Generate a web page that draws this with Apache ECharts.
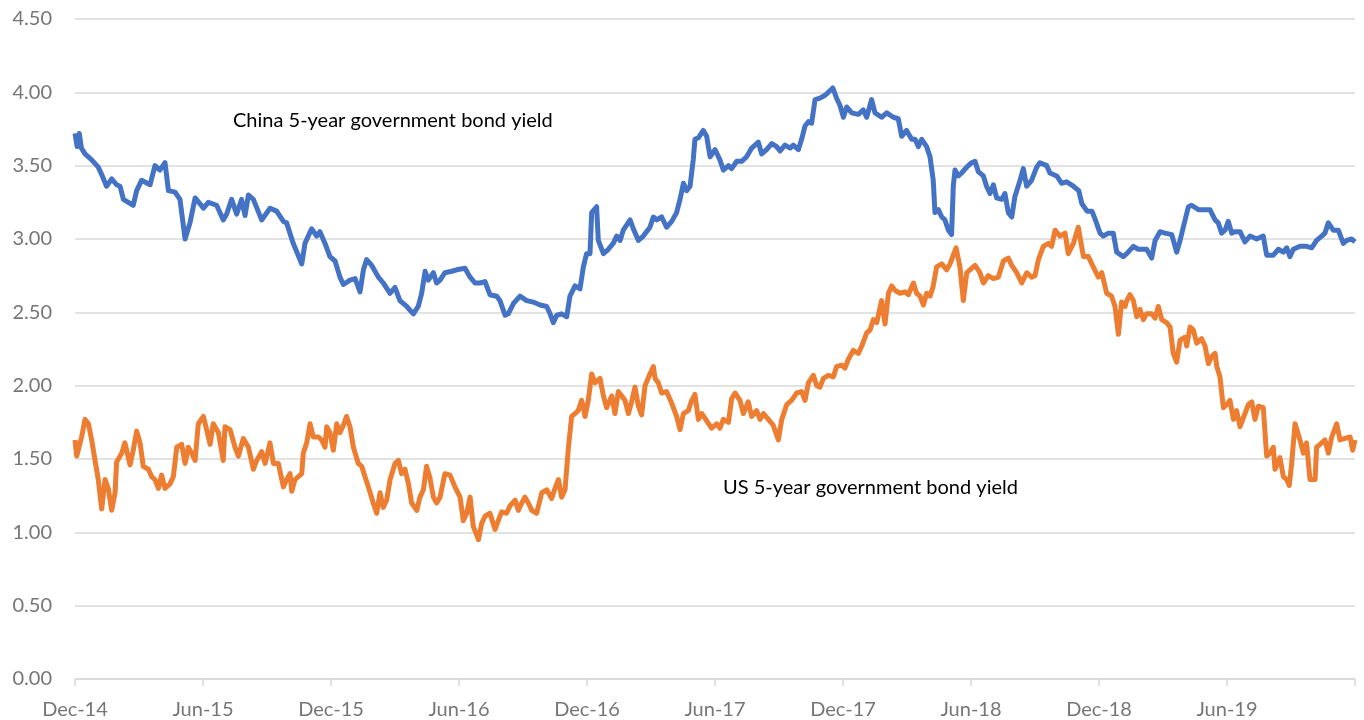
<!DOCTYPE html>
<html>
<head>
    <meta charset="utf-8">
    <script type="text/javascript" src="https://cdn.jsdelivr.net/npm/echarts@6/dist/echarts.min.js"></script>
    <style type="text/css">
        * {
            margin: 0;
            padding: 0;
        }
        html, body {
            background: #ffffff;
        }
        #container {
            width: 1364px;
            height: 720px;
        }
    </style>
</head>
<body>
<div id="container"></div>

<script type="text/javascript">

    //x轴刻度标签 (每6个月一个)
    var tickLabels = ['Dec-14', 'Jun-15', 'Dec-15', 'Jun-16', 'Dec-16', 'Jun-17', 'Dec-17', 'Jun-18', 'Dec-18', 'Jun-19', ''];

    //中国5年期国债收益率: 月份(距Dec-14) / 收益率
    var chinaMonths = [0.00, 0.10, 0.20, 0.30, 0.47, 0.78, 1.09, 1.25, 1.48, 1.72, 1.95, 2.11, 2.27, 2.50, 2.73, 2.89, 3.12, 3.52, 3.75, 3.98,
        4.22, 4.38, 4.69, 4.92, 5.16, 5.39, 5.63, 5.86, 6.02, 6.25, 6.64, 6.95, 7.11, 7.34, 7.58, 7.81, 7.97, 8.13, 8.36, 8.75,
        9.14, 9.45, 9.77, 9.92, 10.23, 10.63, 10.78, 11.09, 11.33, 11.48, 11.72, 11.95, 12.19, 12.42, 12.58, 12.89, 13.13, 13.36, 13.52, 13.67,
        13.91, 14.22, 14.45, 14.77, 15.00, 15.23, 15.55, 15.86, 16.09, 16.25, 16.41, 16.56, 16.80, 16.95, 17.11, 17.34, 17.66, 17.89, 18.28, 18.52,
        18.75, 18.98, 19.22, 19.45, 19.77, 19.92, 20.16, 20.31, 20.55, 20.86, 21.17, 21.48, 21.80, 22.11, 22.27, 22.42, 22.58, 22.81, 23.05, 23.20,
        23.44, 23.67, 23.83, 23.98, 24.14, 24.22, 24.45, 24.53, 24.77, 25.00, 25.23, 25.39, 25.55, 25.70, 26.02, 26.17, 26.41, 26.64, 26.95, 27.11,
        27.27, 27.50, 27.73, 27.97, 28.20, 28.36, 28.52, 28.67, 28.83, 28.98, 29.06, 29.22, 29.45, 29.61, 29.77, 30.00, 30.23, 30.39, 30.63, 30.78,
        31.02, 31.25, 31.48, 31.72, 32.03, 32.19, 32.42, 32.66, 32.89, 33.05, 33.28, 33.52, 33.67, 33.91, 34.06, 34.22, 34.38, 34.53, 34.69, 34.92,
        35.16, 35.31, 35.52, 35.70, 35.86, 36.02, 36.17, 36.41, 36.72, 36.95, 37.11, 37.34, 37.50, 37.81, 38.05, 38.36, 38.59, 38.75, 38.98, 39.22,
        39.38, 39.53, 39.69, 39.92, 40.08, 40.23, 40.31, 40.47, 40.63, 40.78, 40.94, 41.09, 41.17, 41.25, 41.41, 41.56, 41.80, 42.03, 42.19, 42.34,
        42.58, 42.73, 42.89, 43.05, 43.20, 43.44, 43.59, 43.75, 43.91, 44.06, 44.30, 44.45, 44.61, 44.84, 45.08, 45.23, 45.55, 45.70, 46.02, 46.25,
        46.48, 46.80, 47.05, 47.20, 47.44, 47.67, 47.83, 48.05, 48.20, 48.44, 48.67, 48.83, 49.14, 49.30, 49.61, 49.84, 50.23, 50.47, 50.63, 50.86,
        51.09, 51.41, 51.64, 51.80, 51.95, 52.19, 52.34, 52.66, 53.20, 53.44, 53.59, 53.75, 53.91, 54.06, 54.22, 54.38, 54.61, 54.84, 55.08, 55.39,
        55.70, 55.86, 56.17, 56.41, 56.64, 56.80, 56.95, 57.11, 57.42, 57.73, 57.97, 58.20, 58.44, 58.59, 58.75, 58.98, 59.22, 59.45, 59.61, 59.84,
        60.00];
    var chinaYield = [3.72, 3.63, 3.72, 3.62, 3.58, 3.54, 3.49, 3.44, 3.36, 3.41, 3.37, 3.36, 3.27, 3.25, 3.23, 3.33, 3.40, 3.37, 3.50, 3.47,
        3.52, 3.33, 3.32, 3.27, 3.00, 3.11, 3.28, 3.24, 3.21, 3.25, 3.23, 3.13, 3.17, 3.27, 3.17, 3.27, 3.16, 3.30, 3.27, 3.13,
        3.21, 3.19, 3.12, 3.11, 2.97, 2.83, 2.97, 3.07, 3.02, 3.05, 2.97, 2.88, 2.85, 2.74, 2.69, 2.72, 2.73, 2.64, 2.79, 2.86,
        2.82, 2.74, 2.70, 2.63, 2.67, 2.58, 2.54, 2.49, 2.54, 2.63, 2.78, 2.72, 2.77, 2.70, 2.72, 2.77, 2.78, 2.79, 2.80, 2.74,
        2.70, 2.70, 2.71, 2.62, 2.61, 2.58, 2.48, 2.49, 2.56, 2.61, 2.58, 2.57, 2.55, 2.54, 2.49, 2.43, 2.48, 2.49, 2.47, 2.61,
        2.68, 2.66, 2.81, 2.90, 2.90, 3.18, 3.22, 2.99, 2.90, 2.93, 2.97, 3.02, 2.99, 3.06, 3.13, 3.07, 2.99, 3.02, 3.08, 3.15,
        3.13, 3.15, 3.08, 3.12, 3.18, 3.27, 3.38, 3.33, 3.36, 3.54, 3.68, 3.69, 3.74, 3.70, 3.56, 3.61, 3.54, 3.47, 3.50, 3.48,
        3.53, 3.53, 3.56, 3.62, 3.66, 3.58, 3.61, 3.65, 3.63, 3.60, 3.64, 3.62, 3.64, 3.61, 3.68, 3.77, 3.80, 3.79, 3.95, 3.96,
        3.98, 4.00, 4.03, 3.96, 3.91, 3.83, 3.90, 3.86, 3.85, 3.88, 3.83, 3.95, 3.86, 3.83, 3.86, 3.83, 3.82, 3.70, 3.74, 3.68,
        3.68, 3.63, 3.68, 3.63, 3.56, 3.40, 3.18, 3.20, 3.15, 3.13, 3.06, 3.03, 3.36, 3.47, 3.43, 3.45, 3.49, 3.52, 3.53, 3.46,
        3.43, 3.36, 3.31, 3.37, 3.28, 3.27, 3.31, 3.18, 3.15, 3.29, 3.40, 3.48, 3.36, 3.40, 3.49, 3.52, 3.50, 3.45, 3.43, 3.38,
        3.39, 3.36, 3.33, 3.24, 3.19, 3.19, 3.13, 3.04, 3.02, 3.04, 3.04, 2.91, 2.88, 2.90, 2.95, 2.93, 2.93, 2.87, 2.99, 3.05,
        3.04, 3.03, 2.91, 2.99, 3.08, 3.22, 3.23, 3.20, 3.20, 3.13, 3.11, 3.04, 3.06, 3.12, 3.04, 3.05, 3.05, 2.98, 3.02, 3.00,
        3.02, 2.89, 2.89, 2.93, 2.91, 2.94, 2.88, 2.93, 2.95, 2.95, 2.94, 2.99, 3.02, 3.04, 3.11, 3.06, 3.06, 2.97, 2.99, 3.00,
        2.98];

    //美国5年期国债收益率
    var usMonths = [0.00, 0.08, 0.16, 0.31, 0.47, 0.63, 0.78, 0.94, 1.09, 1.25, 1.41, 1.56, 1.72, 1.88, 1.95, 2.19, 2.34, 2.58, 2.73, 2.89,
        3.05, 3.20, 3.44, 3.59, 3.75, 3.91, 4.06, 4.22, 4.45, 4.61, 4.77, 5.00, 5.16, 5.31, 5.47, 5.63, 5.78, 6.02, 6.17, 6.33,
        6.48, 6.72, 6.95, 7.03, 7.27, 7.50, 7.66, 7.89, 8.13, 8.36, 8.52, 8.75, 8.91, 9.14, 9.30, 9.53, 9.77, 9.92, 10.08, 10.16,
        10.31, 10.47, 10.63, 10.70, 10.86, 11.02, 11.17, 11.41, 11.56, 11.72, 11.80, 11.95, 12.11, 12.27, 12.42, 12.58, 12.73, 12.89, 13.05, 13.28,
        13.44, 13.59, 13.75, 13.98, 14.14, 14.30, 14.45, 14.61, 14.77, 15.00, 15.16, 15.31, 15.47, 15.63, 15.78, 16.02, 16.17, 16.33, 16.48, 16.64,
        16.80, 16.95, 17.11, 17.34, 17.58, 17.81, 18.05, 18.20, 18.36, 18.52, 18.67, 18.91, 19.06, 19.22, 19.45, 19.69, 19.84, 20.00, 20.23, 20.39,
        20.63, 20.78, 20.94, 21.09, 21.25, 21.41, 21.64, 21.88, 22.11, 22.34, 22.50, 22.66, 22.81, 22.97, 23.13, 23.28, 23.44, 23.59, 23.75, 23.91,
        24.06, 24.22, 24.38, 24.61, 24.77, 24.92, 25.16, 25.31, 25.47, 25.63, 25.78, 25.94, 26.09, 26.25, 26.41, 26.56, 26.72, 26.95, 27.11, 27.19,
        27.34, 27.50, 27.73, 27.97, 28.20, 28.36, 28.52, 28.75, 28.91, 29.06, 29.22, 29.38, 29.61, 29.84, 30.08, 30.23, 30.39, 30.63, 30.78, 30.94,
        31.17, 31.33, 31.56, 31.72, 31.95, 32.11, 32.27, 32.50, 32.73, 32.97, 33.13, 33.36, 33.59, 33.83, 34.06, 34.22, 34.38, 34.61, 34.77, 34.92,
        35.08, 35.31, 35.55, 35.70, 35.94, 36.09, 36.25, 36.48, 36.72, 36.88, 37.11, 37.27, 37.42, 37.58, 37.81, 37.97, 38.13, 38.28, 38.44, 38.67,
        38.91, 39.06, 39.14, 39.30, 39.45, 39.61, 39.77, 39.92, 40.08, 40.23, 40.39, 40.63, 40.86, 41.02, 41.17, 41.30, 41.48, 41.64, 41.80, 41.95,
        42.19, 42.42, 42.58, 42.81, 43.05, 43.28, 43.52, 43.75, 43.91, 44.14, 44.38, 44.61, 44.84, 45.00, 45.16, 45.39, 45.63, 45.78, 45.94, 46.17,
        46.41, 46.56, 46.80, 47.03, 47.27, 47.50, 47.73, 47.97, 48.13, 48.36, 48.59, 48.75, 48.91, 49.06, 49.22, 49.30, 49.45, 49.61, 49.77, 49.92,
        50.08, 50.23, 50.47, 50.63, 50.78, 50.94, 51.17, 51.33, 51.48, 51.64, 51.80, 52.03, 52.11, 52.27, 52.42, 52.58, 52.81, 52.97, 53.13, 53.28,
        53.44, 53.52, 53.67, 53.83, 53.98, 54.14, 54.30, 54.45, 54.61, 54.84, 55.00, 55.16, 55.31, 55.47, 55.70, 55.86, 56.02, 56.17, 56.25, 56.48,
        56.64, 56.80, 56.92, 57.03, 57.19, 57.42, 57.58, 57.73, 57.89, 58.13, 58.20, 58.36, 58.59, 58.75, 58.91, 59.14, 59.30, 59.53, 59.77, 59.89,
        60.00];
    var usYield = [1.63, 1.52, 1.52, 1.65, 1.77, 1.74, 1.63, 1.49, 1.36, 1.16, 1.36, 1.30, 1.15, 1.27, 1.48, 1.54, 1.61, 1.46, 1.56, 1.69,
        1.61, 1.45, 1.43, 1.38, 1.36, 1.30, 1.39, 1.30, 1.33, 1.38, 1.58, 1.60, 1.47, 1.58, 1.54, 1.49, 1.74, 1.79, 1.70, 1.60,
        1.74, 1.68, 1.49, 1.72, 1.70, 1.58, 1.52, 1.64, 1.58, 1.43, 1.49, 1.55, 1.47, 1.61, 1.47, 1.47, 1.31, 1.36, 1.40, 1.28,
        1.36, 1.38, 1.40, 1.54, 1.61, 1.74, 1.65, 1.65, 1.63, 1.58, 1.72, 1.68, 1.56, 1.74, 1.68, 1.73, 1.79, 1.72, 1.58, 1.47,
        1.45, 1.38, 1.31, 1.20, 1.13, 1.27, 1.17, 1.22, 1.36, 1.47, 1.49, 1.40, 1.43, 1.33, 1.20, 1.15, 1.24, 1.29, 1.45, 1.37,
        1.24, 1.20, 1.24, 1.40, 1.39, 1.31, 1.24, 1.08, 1.13, 1.24, 1.04, 0.95, 1.06, 1.11, 1.13, 1.02, 1.08, 1.14, 1.13, 1.18,
        1.22, 1.15, 1.20, 1.24, 1.20, 1.15, 1.13, 1.27, 1.29, 1.23, 1.30, 1.36, 1.24, 1.29, 1.58, 1.79, 1.81, 1.83, 1.90, 1.79,
        1.90, 2.08, 2.02, 2.05, 1.93, 1.85, 1.93, 1.81, 1.96, 1.93, 1.90, 1.81, 1.89, 1.99, 1.86, 1.80, 2.00, 2.08, 2.13, 2.05,
        2.02, 1.95, 1.96, 1.88, 1.79, 1.70, 1.81, 1.83, 1.90, 1.94, 1.77, 1.81, 1.76, 1.71, 1.74, 1.71, 1.77, 1.75, 1.91, 1.95,
        1.90, 1.81, 1.89, 1.79, 1.83, 1.77, 1.81, 1.77, 1.73, 1.63, 1.77, 1.87, 1.90, 1.95, 1.96, 1.90, 2.02, 2.07, 2.00, 1.99,
        2.05, 2.07, 2.06, 2.13, 2.14, 2.12, 2.18, 2.24, 2.22, 2.27, 2.36, 2.38, 2.45, 2.43, 2.58, 2.42, 2.63, 2.68, 2.65, 2.63,
        2.64, 2.62, 2.63, 2.70, 2.63, 2.61, 2.55, 2.63, 2.61, 2.68, 2.81, 2.83, 2.79, 2.83, 2.89, 2.94, 2.81, 2.58, 2.77, 2.79,
        2.82, 2.77, 2.70, 2.75, 2.73, 2.74, 2.85, 2.87, 2.82, 2.77, 2.70, 2.77, 2.74, 2.75, 2.86, 2.95, 2.97, 2.95, 3.06, 3.02,
        3.04, 2.90, 2.97, 3.08, 2.88, 2.88, 2.81, 2.74, 2.77, 2.63, 2.61, 2.54, 2.35, 2.57, 2.54, 2.58, 2.62, 2.58, 2.47, 2.52,
        2.45, 2.49, 2.49, 2.46, 2.54, 2.45, 2.43, 2.40, 2.22, 2.16, 2.31, 2.33, 2.27, 2.40, 2.38, 2.29, 2.32, 2.27, 2.15, 2.20,
        2.22, 2.13, 2.06, 1.85, 1.87, 1.90, 1.77, 1.83, 1.72, 1.81, 1.87, 1.89, 1.77, 1.86, 1.85, 1.52, 1.54, 1.58, 1.43, 1.51,
        1.38, 1.36, 1.32, 1.47, 1.74, 1.63, 1.54, 1.61, 1.36, 1.36, 1.58, 1.60, 1.63, 1.54, 1.65, 1.74, 1.63, 1.64, 1.65, 1.56,
        1.63];

    var chinaColor = '#4472C4';
    var usColor = '#ED7D31';
    var gridColor = '#d9d9d9';
    var labelColor = '#767676';
    var fontName = 'Lato';

    //组合成 [x, y] 数据
    function toPairs(xs, ys) {
        var res = [];
        for (var i = 0; i < xs.length; i++) {
            res.push([xs[i], ys[i]]);
        }
        return res;
    }

    var dom = document.getElementById("container");
    var myChart = echarts.init(dom, null, {renderer: 'canvas'});
    var option = {
        animation: false,
        backgroundColor: '#ffffff',
        grid: {
            left: 75,
            right: 9,
            top: 19,
            bottom: 41,
            containLabel: false
        },
        graphic: [
            {
                type: 'text',
                left: 233,
                top: 111,
                style: {
                    text: 'China 5-year government bond yield',
                    fill: '#000000',
                    font: '20px ' + fontName
                }
            },
            {
                type: 'text',
                left: 723,
                top: 478,
                style: {
                    text: 'US 5-year government bond yield',
                    fill: '#000000',
                    font: '20px ' + fontName
                }
            }
        ],
        xAxis: {
            type: 'value',
            min: 0,
            max: 60,
            interval: 6,
            axisLine: {
                show: true,
                lineStyle: {color: gridColor, width: 1.5}
            },
            axisTick: {
                show: true,
                length: 7,
                lineStyle: {color: gridColor, width: 1.5}
            },
            splitLine: {show: false},
            axisLabel: {
                margin: 21,
                color: labelColor,
                fontSize: 20,
                fontFamily: fontName,
                formatter: function (v) {
                    return tickLabels[Math.round(v / 6)] || '';
                }
            }
        },
        yAxis: {
            type: 'value',
            min: 0,
            max: 4.5,
            interval: 0.5,
            axisLine: {show: false},
            axisTick: {show: false},
            splitLine: {
                show: true,
                lineStyle: {color: gridColor, width: 1.5}
            },
            axisLabel: {
                margin: 23,
                color: labelColor,
                fontSize: 20,
                fontFamily: fontName,
                formatter: function (v) {
                    return v.toFixed(2);
                }
            }
        },
        series: [
            {
                name: 'China 5-year government bond yield',
                type: 'line',
                showSymbol: false,
                smooth: false,
                data: toPairs(chinaMonths, chinaYield),
                lineStyle: {color: chinaColor, width: 5, join: 'round'},
                itemStyle: {color: chinaColor}
            },
            {
                name: 'US 5-year government bond yield',
                type: 'line',
                showSymbol: false,
                smooth: false,
                data: toPairs(usMonths, usYield),
                lineStyle: {color: usColor, width: 5, join: 'round'},
                itemStyle: {color: usColor}
            }
        ]
    };
    myChart.setOption(option, true);

</script>
</body>
</html>
